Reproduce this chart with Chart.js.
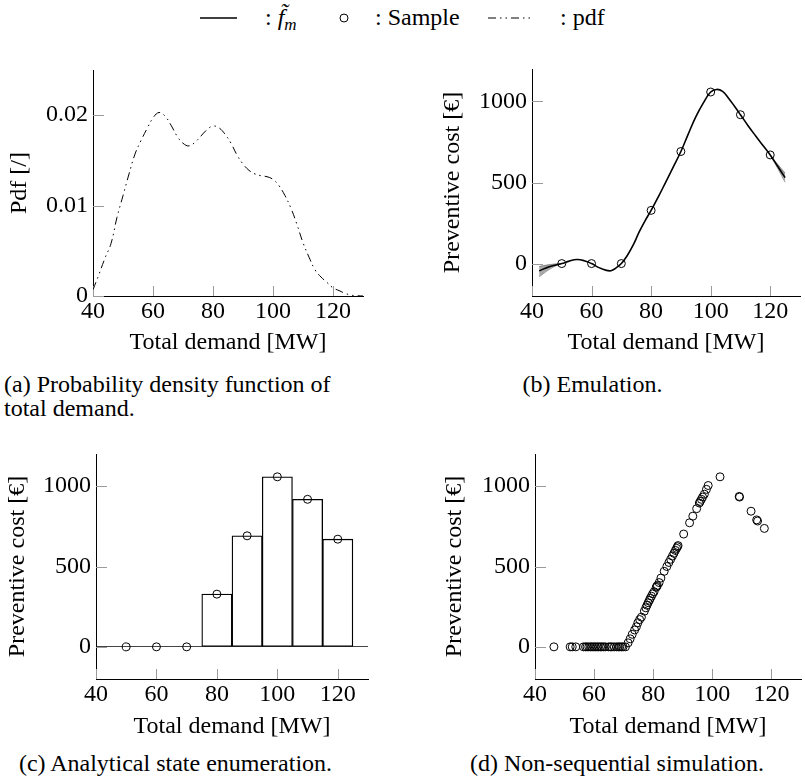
<!DOCTYPE html>
<html><head><meta charset="utf-8">
<script src="https://cdn.jsdelivr.net/npm/chart.js@4.4.1/dist/chart.umd.min.js"></script>
<style>
html,body{margin:0;padding:0;background:#fff;overflow:hidden;width:805px;height:780px}
body{position:relative;font-family:'Liberation Serif','Times New Roman',serif;color:#000}
canvas{position:absolute}
.txt{position:absolute;font-size:24px;line-height:24px;white-space:nowrap}
.cap{position:absolute;font-size:24px;line-height:24px;white-space:nowrap}
svg{position:absolute}
</style></head><body>

<svg style="left:198px;top:8px" width="42" height="20"><line x1="2" y1="10" x2="39" y2="10" stroke="#000" stroke-width="1.5"/></svg>
<div class="txt" style="left:265px;top:5px">: <i>f̃</i><i style="font-size:17px;position:relative;top:5px">m</i></div>
<svg style="left:338px;top:12px" width="12" height="12"><circle cx="6" cy="6" r="4" stroke="#000" stroke-width="1" fill="none"/></svg>
<div class="txt" style="left:375px;top:5px">: Sample</div>
<svg style="left:486px;top:8px" width="48" height="20"><line x1="2" y1="10" x2="46" y2="10" stroke="#000" stroke-width="1" stroke-dasharray="8 4 1.5 4 1.5 4"/></svg>
<div class="txt" style="left:560px;top:5px">: pdf</div>

<canvas id="ca" width="400" height="310" style="left:0px;top:50px"></canvas>
<canvas id="cb" width="405" height="310" style="left:400px;top:50px"></canvas>
<canvas id="cc" width="400" height="315" style="left:0px;top:430px"></canvas>
<canvas id="cd" width="406" height="315" style="left:400px;top:430px"></canvas>

<div class="cap" style="left:4px;top:372px">(a) Probability density function of<br>total demand.</div>
<div class="cap" style="left:420px;width:345px;text-align:center;top:372px">(b) Emulation.</div>
<div class="cap" style="left:3px;width:345px;text-align:center;top:751px">(c) Analytical state enumeration.</div>
<div class="cap" style="left:470px;top:751px">(d) Non-sequential simulation.</div>

<script>
// ---- data ----
const demandTicks = [40, 60, 80, 100, 120];
const pdfTicks = [0, 0.01, 0.02];
const costTicks = [0, 500, 1000];

const pdfDemand = [40, 42, 44, 46, 48, 50, 52, 54, 56, 58, 60, 62, 64, 66, 68, 70, 72, 74, 76, 78, 80, 82, 84, 86, 88, 90, 92, 94, 96, 98, 100, 102, 104, 106, 108, 110, 112, 114, 116, 118, 120, 122, 124, 126, 128, 130];
const pdfValues = [0.0007, 0.0024, 0.0042, 0.0058, 0.0087, 0.0111, 0.0135, 0.0157, 0.0172, 0.0185, 0.0197, 0.0203, 0.0199, 0.0189, 0.0177, 0.0169, 0.0166, 0.0170, 0.0177, 0.0184, 0.0188, 0.0186, 0.0179, 0.0169, 0.0156, 0.0146, 0.0139, 0.0135, 0.0133, 0.0132, 0.0129, 0.0122, 0.0111, 0.0097, 0.0079, 0.0059, 0.0043, 0.0029, 0.0021, 0.0015, 0.0009, 0.0006, 0.0003, 0.0001, 0.00003, 0];

const sampleDemand = [50, 60, 70, 80, 90, 100, 110, 120];
const sampleCost = [0, 0, 0, 328, 691, 1058, 918, 670];

const meanDemand = [42.4, 45, 47.5, 50, 52.5, 55, 57.5, 60, 62.5, 65, 66.5, 68, 70, 72, 74, 76, 78, 80, 82.5, 85, 87.5, 90, 92.5, 95, 97.5, 100, 102, 104, 106, 108, 110, 112.5, 115, 117.5, 120, 122.5, 125];
const meanCost = [-45, -25, -11, 0, 15, 25, 18, 0, -25, -42, -44, -30, 0, 50, 115, 195, 265, 328, 415, 505, 598, 691, 800, 905, 990, 1058, 1074, 1062, 1020, 970, 918, 852, 790, 730, 670, 600, 530];

const bandLeftDemand = [42.4, 45, 47.5, 50];
const bandLeftUpper = [-18, -9, -3, 0];
const bandLeftLower = [-82, -46, -18, 0];
const bandRightDemand = [120, 122.5, 125];
const bandRightUpper = [670, 612, 558];
const bandRightLower = [670, 588, 502];

const enumDemand = [50, 60, 70, 80, 90, 100, 110, 120];
const enumCost = [0, 0, 0, 328, 691, 1058, 918, 670];

const simDemand = [46.4, 51.9, 52.6, 53.8, 56.4, 57.1, 57.6, 58.2, 58.8, 59.3, 59.9, 60.4, 61.0, 61.5, 62.1, 62.6, 63.2, 63.8, 64.9, 65.5, 66.0, 66.8, 67.6, 68.2, 68.7, 69.3, 69.8, 70.6,
  71.5, 72.2, 72.9, 73.7, 74.3, 74.8, 75.4, 76.0, 77.0, 77.5, 77.9, 78.3, 78.7, 79.0, 79.4, 79.8, 80.3, 81.0, 81.2, 81.4, 82.0, 82.6, 83.7, 84.6, 85.3, 85.9, 86.5, 87.0, 87.5, 87.9, 88.2, 88.4,
  90.3, 92.3, 93.4, 94.7, 95.6, 95.9, 96.3, 96.7, 97.3, 98.0, 98.6, 102.6, 109.1, 109.2, 113.1, 115.0, 115.3, 117.6];
const simCost = [0, 0, 0, 0, 0, 0, 0, 0, 0, 0, 0, 0, 0, 0, 0, 0, 0, 0, 0, 0, 0, 0, 0, 0, 0, 0, 0, 0,
  25, 50, 78, 105, 125, 150, 170, 185, 222, 243, 259, 275, 290, 302, 315, 330, 343, 370, 376, 382, 400, 428, 470, 500, 525, 545, 565, 582, 600, 613, 623, 630,
  702, 772, 813, 860, 895, 905, 918, 932, 950, 980, 1004, 1058, 936, 932, 844, 790, 783, 737];

// ---- helpers ----
const pts = (xs, ys) => xs.map((x, i) => ({x: x, y: ys[i]}));
const FONT = {family: "'Liberation Serif', 'Times New Roman', serif", size: 24, lineHeight: 1};

const innerTicks = {
  id: 'innerTicks',
  beforeDatasetsDraw(chart) {
    const {ctx, chartArea, scales} = chart;
    const x = scales.x, y = scales.y;
    ctx.save();
    ctx.strokeStyle = '#9a9a9a';
    ctx.lineWidth = 1;
    ctx.beginPath();
    x.ticks.forEach(t => {
      const px = Math.round(x.getPixelForValue(t.value)) + 0.5;
      ctx.moveTo(px, chartArea.bottom);
      ctx.lineTo(px, chartArea.bottom - 10);
    });
    y.ticks.forEach(t => {
      const py = Math.round(y.getPixelForValue(t.value)) + 0.5;
      ctx.moveTo(chartArea.left, py);
      ctx.lineTo(chartArea.left + 11, py);
    });
    ctx.stroke();
    ctx.restore();
  }
};

function makeOptions(o) {
  return {
    responsive: false, animation: false, devicePixelRatio: 1,
    layout: {padding: {left: 0, right: o.pr, top: o.pt, bottom: 0}},
    plugins: {legend: {display: false}, tooltip: {enabled: false}},
    scales: {
      x: {
        type: 'linear', min: 40, max: 130, offset: false,
        afterBuildTicks: s => { s.ticks = demandTicks.map(v => ({value: v})); },
        afterFit: s => { s.height = o.xh; },
        grid: {display: false, drawTicks: false},
        border: {display: true, color: '#000', width: 1},
        ticks: {font: FONT, color: '#000', padding: 4, maxRotation: 0, autoSkip: false, callback: v => String(v)},
        title: {display: true, text: 'Total demand [MW]', font: FONT, color: '#000', padding: {top: 0, bottom: o.xtp}}
      },
      y: {
        type: 'linear', min: o.ymin, max: o.ymax,
        afterBuildTicks: s => { s.ticks = o.yticks.map(v => ({value: v})); },
        afterFit: s => { s.width = o.yw; },
        grid: o.zeroLine ? {display: true, drawTicks: false, lineWidth: 1,
                color: c => (c.tick && c.tick.value === 0) ? '#444' : 'rgba(0,0,0,0)'} : {display: false, drawTicks: false},
        border: {display: true, color: '#000', width: 1},
        ticks: {font: FONT, color: '#000', padding: 5, callback: v => String(v)},
        title: {display: true, text: o.ytitle, font: FONT, color: '#000', padding: {top: o.ytp, bottom: 0}}
      }
    }
  };
}

const circleStyle = {pointStyle: 'circle', pointRadius: 4, pointBorderWidth: 1, pointBorderColor: '#000', pointBackgroundColor: 'rgba(0,0,0,0)', showLine: false};

// (a) pdf
new Chart(document.getElementById('ca'), {
  type: 'scatter',
  data: {datasets: [{
    data: pts(pdfDemand, pdfValues), showLine: true, pointRadius: 0, borderColor: '#000', borderWidth: 1,
    borderDash: [8, 4, 1.5, 4, 1.5, 4], tension: 0.4, fill: false
  }]},
  options: makeOptions({pr: 37, pt: 20, yw: 93, xh: 64, xtp: 5, ytp: 8, ymin: 0, ymax: 0.025, yticks: pdfTicks, ytitle: 'Pdf [/]'}),
  plugins: [innerTicks]
});

// (b) emulation
new Chart(document.getElementById('cb'), {
  type: 'scatter',
  data: {datasets: [
    Object.assign({data: pts(sampleDemand, sampleCost), order: 0}, circleStyle),
    {data: pts(meanDemand, meanCost), order: 1, showLine: true, pointRadius: 0, borderColor: '#000', borderWidth: 1.6, tension: 0.4, fill: false},
    {data: pts(bandLeftDemand, bandLeftUpper), order: 2, showLine: true, pointRadius: 0, borderColor: '#666', borderWidth: 0.7, backgroundColor: '#a8a8a8', tension: 0.3, fill: '+1'},
    {data: pts(bandLeftDemand, bandLeftLower), order: 2, showLine: true, pointRadius: 0, borderColor: '#666', borderWidth: 0.7, tension: 0.3, fill: false},
    {data: pts(bandRightDemand, bandRightUpper), order: 2, showLine: true, pointRadius: 0, borderColor: '#666', borderWidth: 0.7, backgroundColor: '#a8a8a8', tension: 0.3, fill: '+1'},
    {data: pts(bandRightDemand, bandRightLower), order: 2, showLine: true, pointRadius: 0, borderColor: '#666', borderWidth: 0.7, tension: 0.3, fill: false}
  ]},
  options: makeOptions({pr: 1, pt: 19, yw: 132, xh: 64, xtp: 5, ytp: 41, ymin: -200, ymax: 1200, yticks: costTicks, ytitle: 'Preventive cost [€]'}),
  plugins: [innerTicks]
});

// (c) analytical state enumeration
new Chart(document.getElementById('cc'), {
  type: 'bar',
  data: {datasets: [
    Object.assign({type: 'scatter', data: pts(sampleDemand, sampleCost), order: 0}, circleStyle),
    {type: 'bar', data: pts(enumDemand, enumCost), order: 1, backgroundColor: '#fff', borderColor: '#000', borderWidth: 1.3,
     borderSkipped: false, barPercentage: 1, categoryPercentage: 1}
  ]},
  options: makeOptions({pr: 32, pt: 24, yw: 96, xh: 66, xtp: 6, ytp: 6, ymin: -200, ymax: 1200, yticks: costTicks, ytitle: 'Preventive cost [€]', zeroLine: true}),
  plugins: [innerTicks]
});

// (d) non-sequential simulation
new Chart(document.getElementById('cd'), {
  type: 'scatter',
  data: {datasets: [Object.assign({data: pts(simDemand, simCost)}, circleStyle)]},
  options: makeOptions({pr: 0, pt: 24, yw: 135, xh: 66, xtp: 6, ytp: 43, ymin: -200, ymax: 1200, yticks: costTicks, ytitle: 'Preventive cost [€]'}),
  plugins: [innerTicks]
});
</script>
</body></html>
